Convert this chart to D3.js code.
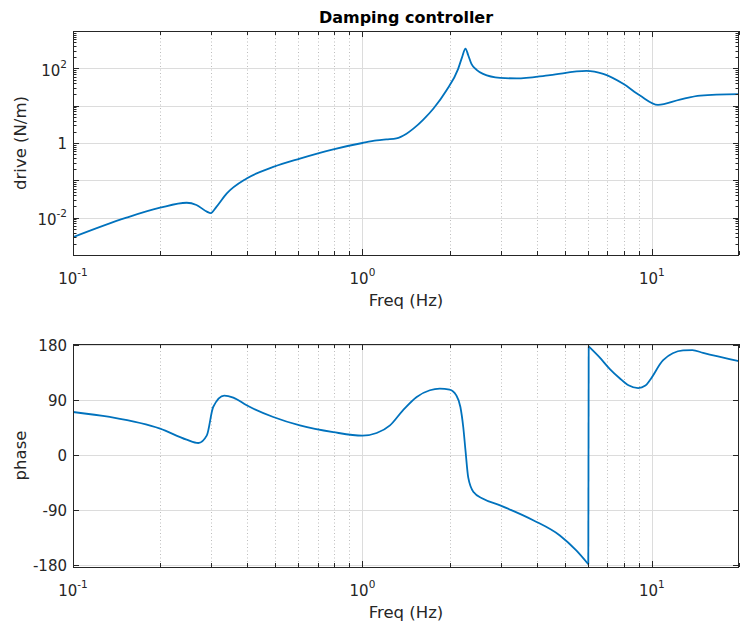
<!DOCTYPE html>
<html>
<head>
<meta charset="utf-8">
<script src="https://cdn.jsdelivr.net/npm/d3@7"></script>
<style>
  body { margin: 0; background: #fff; }
  svg { display: block; font-family: 'DejaVu Sans', sans-serif; }
</style>
</head>
<body>
<div id="chart"></div>
<script>
// magnitude of the controller
const magFreq = [0.1, 0.153, 0.2, 0.247, 0.267, 0.29, 0.299, 0.313, 0.34, 0.398, 0.492, 0.608, 0.793,
  1.0, 1.12, 1.21, 1.31, 1.42, 1.5, 1.62, 1.76, 1.95, 2.14, 2.21, 2.27, 2.32, 2.38, 2.48, 2.61, 2.99, 3.41,
  4.45, 5.94, 6.79, 7.96, 9.1, 10.5, 12.5, 14.7, 20];
const magValue = [0.003, 0.01, 0.0185, 0.0251, 0.0219, 0.0145, 0.0132, 0.0195, 0.0447, 0.112, 0.229, 0.384, 0.679,
  1.0, 1.17, 1.25, 1.33, 1.78, 2.42, 4.17, 8.41, 25.4, 95.5, 200, 339, 224, 131, 91.2, 70.8, 55.5, 53.7,
  66.1, 85.1, 70.8, 38.4, 18.6, 10.5, 14.6, 18.6, 20.3];

// phase in degrees, wrapped to +-180
const phaseFreq = [0.1, 0.134, 0.2, 0.247, 0.271, 0.29, 0.305, 0.333, 0.358, 0.398, 0.492, 0.608, 0.793,
  1.0, 1.12, 1.245, 1.38, 1.54, 1.71, 1.85, 2.0, 2.11, 2.18, 2.23, 2.27, 2.32, 2.42, 2.61, 2.99, 3.89,
  4.81, 5.48, 6.03, 6.05, 6.6, 7.16, 7.74, 8.3, 8.97, 9.5, 9.84, 10.94, 12.82, 13.8, 15.03, 20];
const phaseValue = [70.9, 62.7, 43.6, 25.6, 20.2, 32.7, 79, 97.7, 94.4, 81.8, 62.7, 49, 38,
  32.2, 36.5, 49, 73.6, 95.5, 106.4, 109, 107.4, 98, 79, 46.3, 8.2, -36, -60, -71, -81.8, -106,
  -131, -155.5, -178, 178, 160, 141, 126, 114.5, 110, 114, 122.7, 155.5, 171.5, 172, 167.5, 153.8];

const freqTicks = [0.1, 1, 10];
const freqTickLabels = ['10^-1', '10^0', '10^1'];
const magTicks = [0.01, 1, 100];
const magTickLabels = ['10^-2', '1', '10^2'];
const phaseTicks = [-180, -90, 0, 90, 180];
const phaseTickLabels = ['-180', '-90', '0', '90', '180'];

const width = 740;
const height = 628;
const left = 73;
const right = 739;
const textColor = '#262626';

const svg = d3.select('#chart').append('svg')
  .attr('width', width)
  .attr('height', height);

const xScale = d3.scaleLog().domain([0.1, 20]).range([left, right]);
const isDecade = (v) => Math.abs(Math.log10(v) - Math.round(Math.log10(v))) < 1e-6;

// put "10^-1" style labels into a text element
function powerLabel(text, label) {
  const parts = label.split('^');
  text.append('tspan').text(parts[0]);
  if (parts[1] !== undefined) {
    text.append('tspan').attr('font-size', 10.5).attr('dy', -8).text(parts[1]);
  }
}

function drawPanel(opts) {
  const { top, bottom, yScale, yGrid, yTicksMajor, yTicksMinor, yTickValues, yTickLabels, yLabel, yLabelOffset, series } = opts;
  const g = svg.append('g');
  const clipId = 'clip' + top;

  g.append('clipPath').attr('id', clipId)
    .append('rect')
    .attr('x', left).attr('y', top)
    .attr('width', right - left).attr('height', bottom - top);

  // gridlines
  const xt = xScale.ticks().filter((d) => d > 0.1 && d < 20);
  g.append('g').selectAll('line')
    .data(xt)
    .join('line')
    .attr('x1', (d) => Math.round(xScale(d)) + 0.5)
    .attr('x2', (d) => Math.round(xScale(d)) + 0.5)
    .attr('y1', top).attr('y2', bottom)
    .attr('stroke', (d) => isDecade(d) ? '#dcdcdc' : '#bdbdbd')
    .attr('stroke-dasharray', (d) => isDecade(d) ? null : '1,2.5');

  g.append('g').selectAll('line')
    .data(yGrid)
    .join('line')
    .attr('x1', left).attr('x2', right)
    .attr('y1', (d) => Math.round(yScale(d)) + 0.5)
    .attr('y2', (d) => Math.round(yScale(d)) + 0.5)
    .attr('stroke', '#dcdcdc');

  // data line, broken where the phase wraps
  const line = d3.line()
    .x((d) => xScale(d[0]))
    .y((d) => yScale(d[1]))
    .curve(d3.curveMonotoneX);
  const pieces = [[]];
  series.forEach((p, i) => {
    if (i > 0 && Math.abs(p[1] - series[i - 1][1]) > 180) {
      pieces.push([]);
    }
    pieces[pieces.length - 1].push(p);
  });
  const lines = g.append('g').attr('clip-path', `url(#${clipId})`);
  pieces.forEach((piece, i) => {
    lines.append('path')
      .attr('d', line(piece))
      .attr('fill', 'none')
      .attr('stroke', '#0072bd')
      .attr('stroke-width', 1.8);
    if (i > 0) {
      const prev = pieces[i - 1][pieces[i - 1].length - 1];
      lines.append('path')
        .attr('d', d3.line().x((d) => xScale(d[0])).y((d) => yScale(d[1]))([prev, piece[0]]))
        .attr('fill', 'none')
        .attr('stroke', '#0072bd')
        .attr('stroke-width', 1.8);
    }
  });

  // box
  g.append('rect')
    .attr('x', left + 0.5).attr('y', top + 0.5)
    .attr('width', right - left - 1).attr('height', bottom - top)
    .attr('fill', 'none')
    .attr('stroke', textColor);

  // x ticks, inward on top and bottom
  const xTickLen = (d) => isDecade(d) ? 6 : 4;
  const xTicks = g.append('g').attr('stroke', textColor);
  xTicks.selectAll('.xb')
    .data(xScale.ticks())
    .join('line')
    .attr('class', 'xb')
    .attr('x1', (d) => Math.round(xScale(d)) + 0.5)
    .attr('x2', (d) => Math.round(xScale(d)) + 0.5)
    .attr('y1', bottom).attr('y2', (d) => bottom - xTickLen(d));
  xTicks.selectAll('.xt')
    .data(xScale.ticks())
    .join('line')
    .attr('class', 'xt')
    .attr('x1', (d) => Math.round(xScale(d)) + 0.5)
    .attr('x2', (d) => Math.round(xScale(d)) + 0.5)
    .attr('y1', top).attr('y2', (d) => top + xTickLen(d));

  // y ticks, inward on left and right
  const yTickData = yTicksMajor.map((d) => [d, 6]).concat(yTicksMinor.map((d) => [d, 3.5]));
  const yTicks = g.append('g').attr('stroke', textColor);
  yTicks.selectAll('.yl')
    .data(yTickData)
    .join('line')
    .attr('class', 'yl')
    .attr('x1', left).attr('x2', (d) => left + d[1])
    .attr('y1', (d) => Math.round(yScale(d[0])) + 0.5)
    .attr('y2', (d) => Math.round(yScale(d[0])) + 0.5);
  yTicks.selectAll('.yr')
    .data(yTickData)
    .join('line')
    .attr('class', 'yr')
    .attr('x1', right).attr('x2', (d) => right - d[1])
    .attr('y1', (d) => Math.round(yScale(d[0])) + 0.5)
    .attr('y2', (d) => Math.round(yScale(d[0])) + 0.5);

  // tick labels
  freqTicks.forEach((t, i) => {
    const txt = g.append('text')
      .attr('x', xScale(t))
      .attr('y', bottom + 29)
      .attr('text-anchor', 'middle')
      .attr('font-size', 15)
      .attr('fill', textColor);
    powerLabel(txt, freqTickLabels[i]);
  });
  yTickValues.forEach((t, i) => {
    const lab = yTickLabels[i];
    const txt = g.append('text')
      .attr('x', left - 6)
      .attr('y', yScale(t) + (lab.includes('^') ? 7.5 : 5.5))
      .attr('text-anchor', 'end')
      .attr('font-size', 15)
      .attr('fill', textColor);
    powerLabel(txt, lab);
  });

  // axis labels
  g.append('text')
    .attr('x', (left + right) / 2)
    .attr('y', bottom + 51)
    .attr('text-anchor', 'middle')
    .attr('font-size', 16.5)
    .attr('fill', textColor)
    .text('Freq (Hz)');
  g.append('text')
    .attr('transform', `translate(${yLabelOffset}, ${(top + bottom) / 2}) rotate(-90)`)
    .attr('text-anchor', 'middle')
    .attr('font-size', 16.5)
    .attr('fill', textColor)
    .text(yLabel);
}

// magnitude panel
const yMag = d3.scaleLog().domain([1e-3, 1e3]).range([255, 31]);
const magDecades = yMag.ticks().filter(isDecade);
drawPanel({
  top: 31,
  bottom: 255,
  yScale: yMag,
  yGrid: magDecades.filter((d) => d > 1e-3 && d < 1e3),
  yTicksMajor: magDecades,
  yTicksMinor: yMag.ticks().filter((d) => !isDecade(d)),
  yTickValues: magTicks,
  yTickLabels: magTickLabels,
  yLabel: 'drive (N/m)',
  yLabelOffset: 26,
  series: magFreq.map((f, i) => [f, magValue[i]]),
});

// phase panel
const yPhase = d3.scaleLinear().domain([-182.5, 182]).range([567, 344]);
drawPanel({
  top: 344,
  bottom: 567,
  yScale: yPhase,
  yGrid: phaseTicks,
  yTicksMajor: phaseTicks,
  yTicksMinor: [],
  yTickValues: phaseTicks,
  yTickLabels: phaseTickLabels,
  yLabel: 'phase',
  yLabelOffset: 26,
  series: phaseFreq.map((f, i) => [f, phaseValue[i]]),
});

// title
svg.append('text')
  .attr('x', (left + right) / 2)
  .attr('y', 23)
  .attr('text-anchor', 'middle')
  .attr('font-size', 16)
  .attr('font-weight', 'bold')
  .attr('fill', '#000')
  .text('Damping controller');
</script>
</body>
</html>
